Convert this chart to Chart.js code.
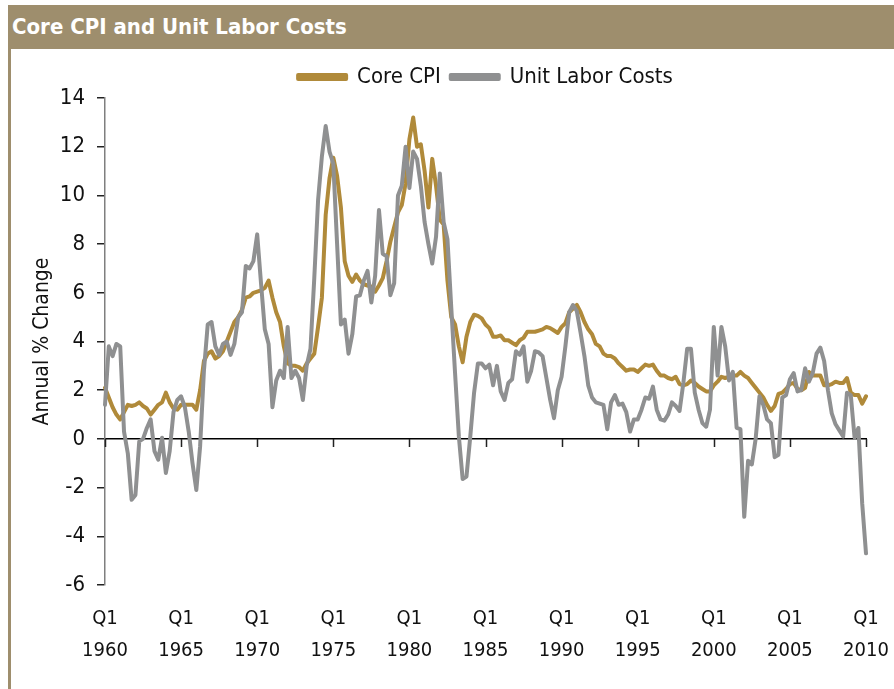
<!DOCTYPE html>
<html>
<head>
<meta charset="utf-8">
<script src="https://cdn.jsdelivr.net/npm/chart.js@4.4.1/dist/chart.umd.min.js"></script>
<style>
  html, body { margin: 0; padding: 0; background: #ffffff; }
  #wrap { position: relative; width: 894px; height: 689px; overflow: hidden; background: #fff; }
  #band { position: absolute; left: 8px; top: 5px; width: 886px; height: 44px; background: #9E8E6D;
          color: #ffffff; font-family: 'Liberation Sans Narrow', 'DejaVu Sans Condensed', Arial, sans-serif;
          font-weight: bold; font-size: 22px; line-height: 44px; letter-spacing: 0px; padding-left: 4px; box-sizing: border-box; }
  #leftline { position: absolute; left: 8px; top: 49px; width: 3px; height: 640px; background: #9E8E6D; }
  #c { position: absolute; left: 0; top: 0; }
</style>
</head>
<body>
<div id="wrap">
  <div id="band">Core CPI and Unit Labor Costs</div>
  <div id="leftline"></div>
  <canvas id="c" width="894" height="689"></canvas>
</div>
<script>
// ---- data (quarterly, Q1 1960 .. Q1 2010), annual % change ----
const quarterLabels = [];
for (let y = 1960; y <= 2010; y++) {
  for (let q = 1; q <= 4; q++) {
    if (quarterLabels.length < 201) quarterLabels.push('Q' + q + ' ' + y);
  }
}

const xTickLabels = [
  ['Q1', '1960'], ['Q1', '1965'], ['Q1', '1970'], ['Q1', '1975'], ['Q1', '1980'], ['Q1', '1985'],
  ['Q1', '1990'], ['Q1', '1995'], ['Q1', '2000'], ['Q1', '2005'], ['Q1', '2010']
];

const coreCPI = [
  2.1, 1.7, 1.3, 1.0, 0.8, 1.1, 1.4, 1.35, 1.4, 1.5,
  1.35, 1.25, 1.0, 1.2, 1.4, 1.5, 1.9, 1.5, 1.25, 1.2,
  1.4, 1.4, 1.4, 1.4, 1.2, 2.0, 3.2, 3.5, 3.6, 3.3,
  3.4, 3.6, 4.0, 4.4, 4.8, 5.0, 5.3, 5.8, 5.85, 6.0,
  6.05, 6.1, 6.2, 6.5, 5.8, 5.2, 4.8, 3.8, 3.1, 3.0,
  3.0, 2.95, 2.8, 3.1, 3.3, 3.5, 4.6, 5.8, 9.2, 10.7,
  11.55, 10.8, 9.5, 7.3, 6.7, 6.45, 6.75, 6.5, 6.35, 6.3,
  6.25, 6.05, 6.3, 6.6, 7.3, 8.1, 8.7, 9.3, 9.6, 10.5,
  12.3, 13.2, 12.0, 12.1, 11.0, 9.5, 11.5, 10.4, 9.0, 8.8,
  6.5, 5.0, 4.7, 3.8, 3.15, 4.2, 4.8, 5.1, 5.05, 4.95,
  4.7, 4.55, 4.2, 4.2, 4.25, 4.05, 4.05, 3.95, 3.85, 4.05,
  4.15, 4.4, 4.4, 4.4, 4.45, 4.5, 4.6, 4.55, 4.45, 4.35,
  4.6, 4.75, 5.2, 5.35, 5.5, 5.2, 4.8, 4.5, 4.3, 3.9,
  3.8, 3.5, 3.4, 3.4, 3.3, 3.1, 2.95, 2.8, 2.85, 2.85,
  2.75, 2.9, 3.05, 3.0, 3.05, 2.8, 2.6, 2.6, 2.5, 2.45,
  2.55, 2.25, 2.2, 2.25, 2.4, 2.3, 2.15, 2.05, 1.95, 1.95,
  2.2, 2.35, 2.55, 2.5, 2.55, 2.6, 2.6, 2.75, 2.6, 2.5,
  2.3, 2.1, 1.9, 1.7, 1.4, 1.15, 1.35, 1.85, 1.9, 2.05,
  2.25, 2.3, 2.05, 2.0, 2.1, 2.75, 2.6, 2.6, 2.6, 2.2,
  2.2, 2.25, 2.35, 2.3, 2.3, 2.5, 1.9, 1.8, 1.8, 1.45,
  1.75
];

const unitLaborCosts = [
  1.4, 3.8, 3.4, 3.9, 3.8, 0.3, -0.6, -2.5, -2.3, -0.1,
  0.0, 0.45, 0.8, -0.5, -0.85, 0.05, -1.4, -0.5, 1.1, 1.6,
  1.75, 1.3, 0.3, -1.0, -2.1, -0.3, 2.8, 4.7, 4.8, 3.8,
  3.45, 3.9, 4.0, 3.45, 3.9, 5.0, 5.2, 7.1, 7.0, 7.3,
  8.4, 6.4, 4.5, 3.9, 1.3, 2.4, 2.8, 2.5, 4.6, 2.5,
  2.8, 2.5, 1.6, 3.0, 3.7, 6.6, 9.8, 11.6, 12.85, 11.8,
  11.3, 8.0, 4.7, 4.9, 3.5, 4.3, 5.85, 5.9, 6.5, 6.9,
  5.6, 6.7, 9.4, 7.6, 7.5, 5.9, 6.4, 10.0, 10.4, 12.0,
  10.3, 11.8, 11.5, 10.4, 8.9, 8.0, 7.2, 8.3, 10.9, 8.9,
  8.2, 5.4, 2.7, 0.1, -1.65, -1.55, 0.1, 1.9, 3.1, 3.1,
  2.9, 3.05, 2.2, 3.0, 1.95, 1.6, 2.3, 2.45, 3.6, 3.45,
  3.8, 2.35, 2.8, 3.6, 3.55, 3.4, 2.5, 1.6, 0.85, 2.0,
  2.55, 3.8, 5.2, 5.5, 5.25, 4.35, 3.4, 2.2, 1.7, 1.5,
  1.45, 1.4, 0.4, 1.5, 1.8, 1.4, 1.45, 1.1, 0.3, 0.8,
  0.8, 1.2, 1.7, 1.65, 2.15, 1.2, 0.8, 0.75, 1.0, 1.5,
  1.35, 1.15, 2.3, 3.7, 3.7, 1.9, 1.2, 0.65, 0.5, 1.2,
  4.6, 2.6, 4.6, 3.8, 2.4, 2.75, 0.45, 0.4, -3.2, -0.9,
  -1.05, 0.0, 1.75, 1.4, 0.8, 0.65, -0.75, -0.65, 1.7, 1.8,
  2.45, 2.7, 1.95, 2.0, 2.9, 2.35, 2.7, 3.5, 3.75, 3.2,
  2.0, 1.05, 0.6, 0.35, 0.1, 1.9, 1.8, 0.05, 0.45, -2.65,
  -4.7
];

const seriesNames = ['Core CPI', 'Unit Labor Costs'];
const yTitle = 'Annual % Change';

// ---- styling ----
const FONT = "'Liberation Sans Narrow', 'DejaVu Sans Condensed', Arial, sans-serif";
const GOLD = '#B08A3A';
const GRAY = '#8F9091';
const TICK_EVERY = 20;

// tick marks hanging below the zero line at every labelled x tick
const zeroTicks = {
  id: 'zeroTicks',
  afterDraw(chart) {
    const xs = chart.scales.x, ys = chart.scales.y, ctx = chart.ctx;
    const y0 = Math.round(ys.getPixelForValue(0));
    ctx.save();
    ctx.strokeStyle = '#222';
    ctx.lineWidth = 1.5;
    ctx.beginPath();
    xs.ticks.forEach((t) => {
      if (t.label === null || t.label === undefined || t.label === '') return;
      const px = Math.round(xs.getPixelForValue(t.value)) + 0.5;
      ctx.moveTo(px, y0);
      ctx.lineTo(px, y0 + 8);
    });
    ctx.stroke();
    ctx.restore();
  }
};

new Chart(document.getElementById('c'), {
  type: 'line',
  data: {
    labels: quarterLabels,
    datasets: [
      { label: seriesNames[0], data: coreCPI, borderColor: GOLD, backgroundColor: GOLD,
        borderWidth: 4, pointRadius: 0, tension: 0, borderJoinStyle: 'round', borderCapStyle: 'round', order: 1 },
      { label: seriesNames[1], data: unitLaborCosts, borderColor: GRAY, backgroundColor: GRAY,
        borderWidth: 4, pointRadius: 0, tension: 0, borderJoinStyle: 'round', borderCapStyle: 'round', order: 0 }
    ]
  },
  plugins: [zeroTicks],
  options: {
    responsive: false,
    animation: false,
    devicePixelRatio: 1,
    layout: { padding: { left: 0, right: 28, top: 56, bottom: 0 } },
    plugins: {
      title: { display: false },
      tooltip: { enabled: false },
      legend: {
        display: true,
        position: 'top',
        fullSize: false,
        labels: {
          boxWidth: 48,
          boxHeight: 4,
          padding: 10,
          color: '#111',
          font: { family: FONT, size: 22 },
          sort: (a, b) => a.datasetIndex - b.datasetIndex
        }
      }
    },
    scales: {
      x: {
        type: 'category',
        position: 'bottom',
        grid: { display: false, drawTicks: false },
        border: { display: false },
        ticks: {
          autoSkip: false,
          maxRotation: 0,
          minRotation: 0,
          padding: 18,
          color: '#111',
          font: { family: FONT, size: 20, lineHeight: '32px' },
          callback: (v, i) => (i % TICK_EVERY === 0 ? xTickLabels[i / TICK_EVERY] : null)
        },
        afterFit: (s) => { s.height = 104; s.paddingLeft = 0; s.paddingRight = 0; }
      },
      x0: {
        type: 'category',
        position: { y: 0 },
        grid: { display: false, drawTicks: false },
        border: { display: true, color: '#000', width: 1.5 },
        ticks: { display: false, autoSkip: false },
        afterFit: (s) => { s.paddingLeft = 0; s.paddingRight = 0; }
      },
      y: {
        type: 'linear',
        position: 'left',
        min: -6,
        max: 14,
        ticks: {
          stepSize: 2,
          padding: 12,
          color: '#111',
          font: { family: FONT, size: 22 }
        },
        grid: {
          display: true,
          drawOnChartArea: false,
          drawTicks: true,
          tickLength: 8,
          color: '#222',
          tickColor: '#222',
          lineWidth: 1.5
        },
        border: { display: true, color: '#7f7f7f', width: 1.5 },
        title: {
          display: true,
          text: yTitle,
          color: '#111',
          font: { family: FONT, size: 21 },
          padding: { top: 30, bottom: 0 }
        },
        afterFit: (s) => { s.width = 105; }
      }
    }
  }
});
</script>
</body>
</html>
